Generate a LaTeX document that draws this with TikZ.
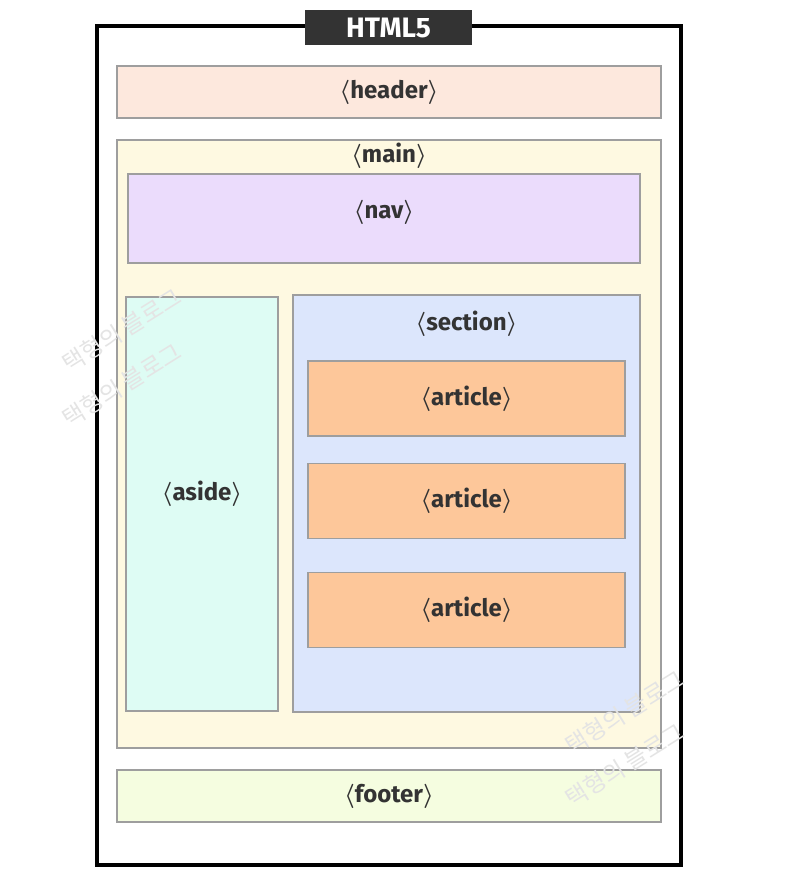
\documentclass[tikz,border=0pt]{standalone}
\usepackage{fontspec}
\setmainfont{Fira Sans}
\newfontfamily\krfont{Noto Sans CJK KR}
\usetikzlibrary{positioning}
\definecolor{frametxt}{HTML}{333333}
\definecolor{edgegray}{HTML}{9E9E9E}
\definecolor{headerfill}{HTML}{FDE8DD}
\definecolor{mainfill}{HTML}{FEF9E1}
\definecolor{navfill}{HTML}{EBDCFC}
\definecolor{asidefill}{HTML}{DEFCF4}
\definecolor{sectionfill}{HTML}{DCE6FC}
\definecolor{articlefill}{HTML}{FDC79A}
\definecolor{footerfill}{HTML}{F5FDE0}
\definecolor{markgray}{HTML}{E4E4E4}
\tikzset{
  tag/.style={font=\bfseries\boldmath\fontsize{20.5}{24}\selectfont,text=frametxt},
  block/.style={draw=edgegray,line width=1.6pt,inner sep=0pt},
  page/.style={draw=black,line width=3pt,fill=white,inner sep=0pt},
  badge/.style={fill=frametxt,text=white,font=\bfseries\fontsize{24}{26}\selectfont,inner sep=0pt},
  stamp/.style={font=\krfont\fontsize{20}{22}\selectfont,text=markgray,rotate=32}
}
\newcommand{\tagname}[1]{\ensuremath{\langle}#1\ensuremath{\rangle}}

\begin{document}
\begin{tikzpicture}[x=0.03cm,y=-0.03cm]
\path[use as bounding box] (0,0) rectangle (800,883);
% outer page and title
\node[page,minimum width=17.52cm,minimum height=25.17cm] (page) at (389,445.5) {};
\node[badge,minimum width=5.01cm,minimum height=1.05cm] (title) at (388.5,27.5) {HTML5};
% header
\node[block,fill=headerfill,minimum width=16.32cm,minimum height=1.56cm] (header) at (389,92) {};
\node[tag] (headerlbl) at (header.center) {\tagname{header}};
% main
\node[block,fill=mainfill,minimum width=16.32cm,minimum height=18.24cm] (main) at (389,444) {};
\node[tag] (mainlbl) at (389,156) {\tagname{main}};
\node[block,fill=navfill,minimum width=15.36cm,minimum height=2.67cm] (nav) at (384,218.5) {};
\node[tag] (navlbl) at (384,212) {\tagname{nav}};
\node[block,fill=asidefill,minimum width=4.56cm,minimum height=12.42cm] (aside) at (202,504) {};
\node[tag] (asidelbl) at (202,494) {\tagname{aside}};
\node[block,fill=sectionfill,minimum width=10.41cm,minimum height=12.51cm] (section) at (466.5,503.5) {};
\node[tag] (sectionlbl) at (466.5,324) {\tagname{section}};
\foreach \i/\y in {1/398.5,2/501,3/610}
{
\node[block,fill=articlefill,minimum width=9.51cm,minimum height=2.25cm] (article\i) at (466.5,\y) {};
\node[tag] (article\i lbl) at (article\i.center) {\tagname{article}};
}
% footer
\node[block,fill=footerfill,minimum width=16.32cm,minimum height=1.56cm] (footer) at (389,796) {};
\node[tag] (footerlbl) at (footer.center) {\tagname{footer}};
% watermarks
\foreach \x/\y [count=\k] in {122/330,122/385,625/712,625/765}
  \node[stamp] (mark\k) at (\x,\y) {택형의 블로그};
\end{tikzpicture}
\end{document}
